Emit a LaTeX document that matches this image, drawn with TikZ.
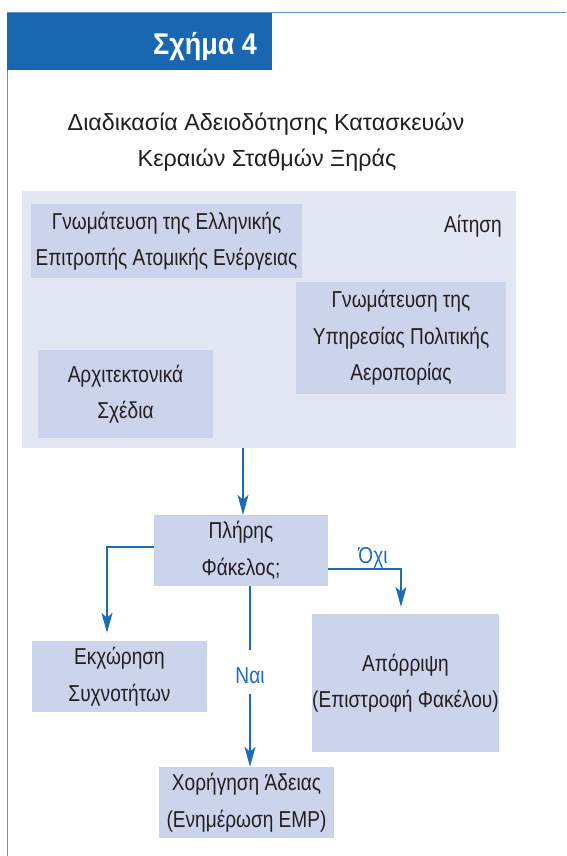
\documentclass[tikz,border=0pt]{standalone}
\usepackage{fontspec}
\setmainfont[FakeStretch=0.83]{Liberation Sans}
\newfontfamily\headfont[FakeStretch=0.9]{Liberation Sans}
\newfontfamily\titlefamily{Liberation Sans}
\usetikzlibrary{arrows.meta}
\definecolor{hdblue}{HTML}{1A67B1}
\definecolor{lnblue}{HTML}{1E6BB8}
\definecolor{frblue}{HTML}{5E94CF}
\definecolor{bgbox}{HTML}{E3E7F4}
\definecolor{inbox}{HTML}{CCD4EB}
\definecolor{txt}{HTML}{231F20}
\newcommand\boxfont{\fontsize{23}{36.5}\selectfont}
\begin{document}
\begin{tikzpicture}[x=1pt,y=-1pt,
  box/.style={fill=inbox, inner sep=0pt, align=center, text=txt, font=\boxfont},
  plain/.style={inner sep=0pt, text=txt, font=\boxfont},
  titletext/.style={inner sep=0pt, text=txt, font=\titlefamily\fontsize{23.3}{36}\selectfont},
  conn/.style={draw=lnblue, line width=1.1pt},
  arr/.style={conn, -{Stealth[length=20pt,width=11pt,inset=5pt]}},
  lbl/.style={text=lnblue, font=\boxfont, inner sep=0pt},
  frame/.style={draw=frblue, line width=1pt}]
\useasboundingbox (0,0) rectangle (566,856);
\fill[white] (0,0) rectangle (566,856);
\draw[frame] (566,13) -- (7,13) -- (7,856);
\node[fill=hdblue, minimum width=265pt, minimum height=57pt, inner sep=0pt] (hd) at (139.5,41.5) {};
\node[text=white, inner sep=0pt, anchor=base, font=\headfont\bfseries\fontsize{30}{36}\selectfont] (hdt) at (205,55) {Σχήμα 4};
\node[titletext, anchor=base] (t1) at (266,131) {Διαδικασία Αδειοδότησης Κατασκευών};
\node[titletext, anchor=base] (t2) at (267,166.5) {Κεραιών Σταθμών Ξηράς};
\node[fill=bgbox, minimum width=494pt, minimum height=257pt, inner sep=0pt] (big) at (269,319.5) {};
\node[box, minimum width=271pt, minimum height=74pt] (eeae) at (166.5,241) {Γνωμάτευση της Ελληνικής\\Επιτροπής Ατομικής Ενέργειας};
\node[plain, anchor=base] (ait) at (473,232) {Αίτηση};
\node[box, minimum width=210pt, minimum height=112pt] (ypa) at (401,338) {Γνωμάτευση της\\Υπηρεσίας Πολιτικής\\Αεροπορίας};
\node[box, minimum width=175pt, minimum height=88pt] (arch) at (125.5,394) {Αρχιτεκτονικά\\Σχέδια};
\node[box, minimum width=174pt, minimum height=71pt] (pf) at (241,550.5) {Πλήρης\\Φάκελος;};
\node[box, minimum width=175pt, minimum height=71pt] (ek) at (119.5,676.5) {Εκχώρηση\\Συχνοτήτων};
\node[box, minimum width=181pt, minimum height=138pt] (ap) at (405.5,683) {Απόρριψη\\(Επιστροφή Φακέλου)};
\node[box, minimum width=175pt, minimum height=71pt] (cho) at (246.5,802.5) {Χορήγηση Άδειας\\(Ενημέρωση ΕΜΡ)};
\coordinate (xa) at (243,0);
\coordinate (xm) at (250,0);
\draw[arr] (big.south -| xa) -- (pf.north -| xa);
\draw[arr, shorten >=8pt] ([yshift=3.5pt]pf.west) -| ([xshift=-12.5pt]ek.north);
\draw[arr, shorten >=7pt] ([yshift=-18.5pt]pf.east) -| ([xshift=-4.5pt]ap.north);
\node[lbl, anchor=base] (ochi) at (373,563) {Όχι};
\node[lbl, anchor=base] (nai) at (250,683) {Ναι};
\draw[conn] (pf.south -| xm) -- ([yshift=16.5pt]nai.north);
\draw[arr] ([yshift=-11pt]nai.south) -- (cho.north -| xm);
\end{tikzpicture}
\end{document}
